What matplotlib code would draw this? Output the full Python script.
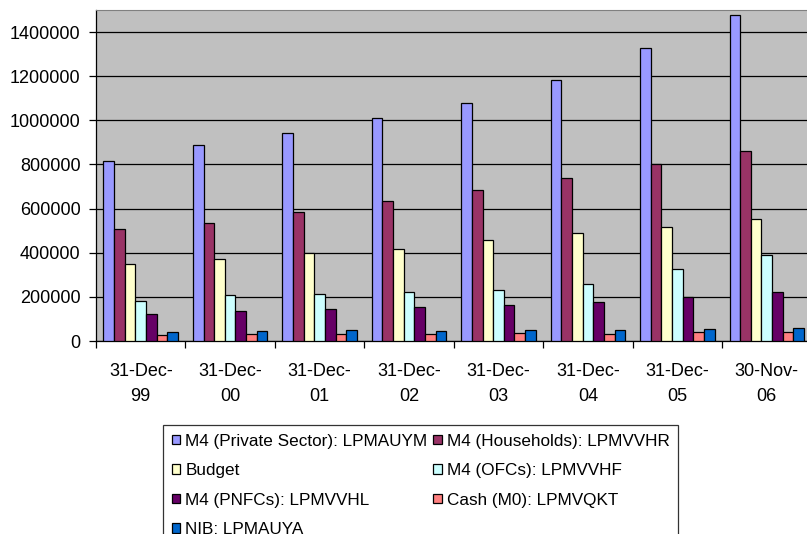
import matplotlib
matplotlib.use("Agg")
import matplotlib.pyplot as plt
import numpy as np

plt.rcParams["font.family"] = ["Liberation Sans", "DejaVu Sans"]

dates = ["31-Dec-\n99", "31-Dec-\n00", "31-Dec-\n01", "31-Dec-\n02",
         "31-Dec-\n03", "31-Dec-\n04", "31-Dec-\n05", "30-Nov-\n06"]

private_sector = [815000, 887000, 941000, 1009000, 1080000, 1181000, 1326000, 1478000]
households = [506000, 536000, 583000, 633000, 684000, 740000, 800000, 861000]
budget = [349000, 370000, 397000, 415000, 456000, 488000, 516000, 551000]
ofcs = [183000, 208000, 213000, 223000, 229000, 260000, 325000, 391000]
pnfcs = [122000, 137000, 144000, 153000, 163000, 178000, 199000, 223000]
cash = [27000, 32000, 32000, 30000, 35000, 33000, 41000, 41000]
nib = [41000, 45000, 51000, 45000, 51000, 51000, 56000, 57000]

series = [
    ("M4 (Private Sector): LPMAUYM", private_sector, "#9999FF"),
    ("M4 (Households): LPMVVHR", households, "#993366"),
    ("Budget", budget, "#FFFFCC"),
    ("M4 (OFCs): LPMVVHF", ofcs, "#CCFFFF"),
    ("M4 (PNFCs): LPMVVHL", pnfcs, "#660066"),
    ("Cash (M0): LPMVQKT", cash, "#FF8080"),
    ("NIB: LPMAUYA", nib, "#0066CC"),
]

fig = plt.figure(figsize=(8.07, 5.34), dpi=100)
ax = fig.add_axes([96 / 807, 193 / 534, 715.5 / 807, 331 / 534])
ax.set_facecolor("#C0C0C0")

x = np.arange(len(dates))
w = 0.119
handles = []
for i, (name, vals, col) in enumerate(series):
    b = ax.bar(x + (i - 3) * w, vals, w, color=col, edgecolor="black",
               linewidth=0.9, label=name, zorder=3)
    handles.append(b)

ax.set_xlim(-0.5, 7.5)
ax.set_ylim(0, 1500000)
ax.set_yticks(np.arange(0, 1400001, 200000))
ax.yaxis.set_major_formatter(matplotlib.ticker.FuncFormatter(lambda v, p: f"{int(v)}"))
ax.yaxis.grid(True, color="black", linewidth=0.9, zorder=1)
ax.tick_params(axis="y", direction="out", length=5, width=0.9, pad=6,
               labelsize=13)

ax.set_xticks(np.arange(-0.5, 8, 1))
ax.set_xticklabels([])
ax.tick_params(axis="x", which="major", direction="out", length=5, width=0.9)
ax.set_xticks(x, minor=True)
ax.set_xticklabels(dates, minor=True, fontsize=13, linespacing=1.6)
ax.tick_params(axis="x", which="minor", length=0, pad=16)

for s in ["left", "bottom"]:
    ax.spines[s].set_color("black")
    ax.spines[s].set_linewidth(0.9)
ax.spines["top"].set_color("#808080")
ax.spines["right"].set_visible(False)

order = [0, 2, 4, 6, 1, 3, 5]
leg = fig.legend([handles[i] for i in order], [series[i][0] for i in order],
                 loc="upper left", bbox_to_anchor=(163 / 807, 1 - 425 / 534),
                 bbox_transform=fig.transFigure, ncol=2, fontsize=12.3,
                 frameon=True, fancybox=False, edgecolor="black",
                 handlelength=0.5, handleheight=0.5, handletextpad=0.3,
                 columnspacing=0.35, labelspacing=0.85, borderpad=0.5,
                 borderaxespad=0)
leg.get_frame().set_linewidth(0.9)

fig.savefig("out.png", dpi=100)
